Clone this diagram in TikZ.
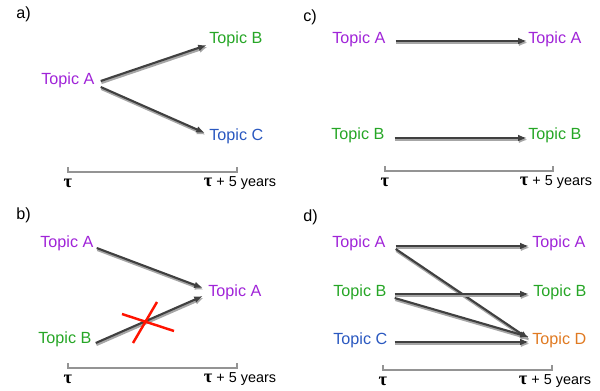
\documentclass[tikz,border=0pt]{standalone}
\usepackage{fontspec}
\setmainfont{Liberation Sans}
\newfontfamily\taufont{Liberation Serif}
\usetikzlibrary{arrows.meta}

\definecolor{topicA}{HTML}{A024D8}
\definecolor{topicB}{HTML}{26A626}
\definecolor{topicC}{HTML}{2A58C0}
\definecolor{topicD}{HTML}{E07A22}

\newcommand{\tauup}{{\taufont\bfseries\fontsize{10.5}{10}\selectfont τ}}

\begin{document}
\begin{tikzpicture}[
    x=0.02cm, y=-0.02cm,
    topic/.style={anchor=west, inner sep=0pt, font=\fontsize{9.2}{11}\selectfont},
    panel/.style={anchor=west, inner sep=0pt, font=\fontsize{9.2}{11}\selectfont},
    stamp/.style={inner sep=0pt, font=\fontsize{8.2}{10}\selectfont},
    link/.style={-{Latex[length=5pt,width=3.8pt]}, line width=1.2pt, draw=black!75,
      preaction={draw=black!35, line width=1.5pt,
        transform canvas={shift={(0.4pt,-1pt)}}}},
    span/.style={draw=black!42, line width=0.9pt},
    veto/.style={draw=red!85!orange, line width=1.4pt}
  ]
    \useasboundingbox (0,0) rectangle (600,390);

    % panel labels
    \node[panel] (la) at (16,14) {a)};
    \node[panel] (lb) at (16,215) {b)};
    \node[panel] (lc) at (303,17) {c)};
    \node[panel] (ld) at (303,217) {d)};

    % time axes
    \foreach \n/\x/\y/\w in {a/68/172/169,b/68/368/169,c/385/171/168,d/383/370/169} {
      \coordinate (s\n) at (\x,\y);
      \coordinate (e\n) at (\x+\w,\y);
      \draw[span] ([shift={(0,-5)}]s\n) -- (s\n) -- (e\n) -- ([shift={(0,-5)}]e\n);
      \node[stamp] (ts\n) at ([shift={(0,11)}]s\n) {\tauup};
      \node[stamp] (te\n) at ([shift={(3,11)}]e\n) {\tauup{} + 5 years};
    }

    % a)
    \node[topic, text=topicA] (aA) at (41,80) {Topic A};
    \node[topic, text=topicB] (aB) at (209,39) {Topic B};
    \node[topic, text=topicC] (aC) at (209,136) {Topic C};
    \draw[link] ([shift={(6,1)}]aA.east) -- ([shift={(-2,6)}]aB.west);
    \draw[link] ([shift={(6,7)}]aA.east) -- ([shift={(-4,-3)}]aC.west);

    % b)
    \node[topic, text=topicA] (bA) at (40,243) {Topic A};
    \node[topic, text=topicA] (bA2) at (208,292) {Topic A};
    \node[topic, text=topicB] (bB) at (38,339) {Topic B};
    \draw[link] ([shift={(3,5)}]bA.east) -- ([shift={(-5,-4)}]bA2.west);
    \draw[link] ([shift={(4,4)}]bB.east) -- ([shift={(-5,4)}]bA2.west);
    \draw[veto] (122,314) -- (174,331);
    \draw[veto] (157,302) -- (133,343);

    % c)
    \node[topic, text=topicA] (cA) at (332,39) {Topic A};
    \node[topic, text=topicA] (cA2) at (528,39) {Topic A};
    \node[topic, text=topicB] (cB) at (331,135) {Topic B};
    \node[topic, text=topicB] (cB2) at (528,135) {Topic B};
    \draw[link] ([shift={(10,2)}]cA.east) -- ([shift={(-1,2)}]cA2.west);
    \draw[link] ([shift={(10,3)}]cB.east) -- ([shift={(-1,3)}]cB2.west);

    % d)
    \node[topic, text=topicA] (dA) at (332,243) {Topic A};
    \node[topic, text=topicB] (dB) at (333,292) {Topic B};
    \node[topic, text=topicC] (dC) at (333,340) {Topic C};
    \node[topic, text=topicA] (dA2) at (532,243) {Topic A};
    \node[topic, text=topicB] (dB2) at (533,292) {Topic B};
    \node[topic, text=topicD] (dD) at (532,340) {Topic D};
    \draw[link] ([shift={(10,3)}]dA.east) -- ([shift={(-3,3)}]dA2.west);
    \draw[link] ([shift={(10,6)}]dA.east) -- ([shift={(-3,-1)}]dD.west);
    \draw[link] ([shift={(8,2)}]dB.east) -- ([shift={(-4,2)}]dB2.west);
    \draw[link] ([shift={(8,6)}]dB.east) -- ([shift={(-3,-3)}]dD.west);
    \draw[link] ([shift={(7,2)}]dC.east) -- ([shift={(-3,2)}]dD.west);
  \end{tikzpicture}
\end{document}
